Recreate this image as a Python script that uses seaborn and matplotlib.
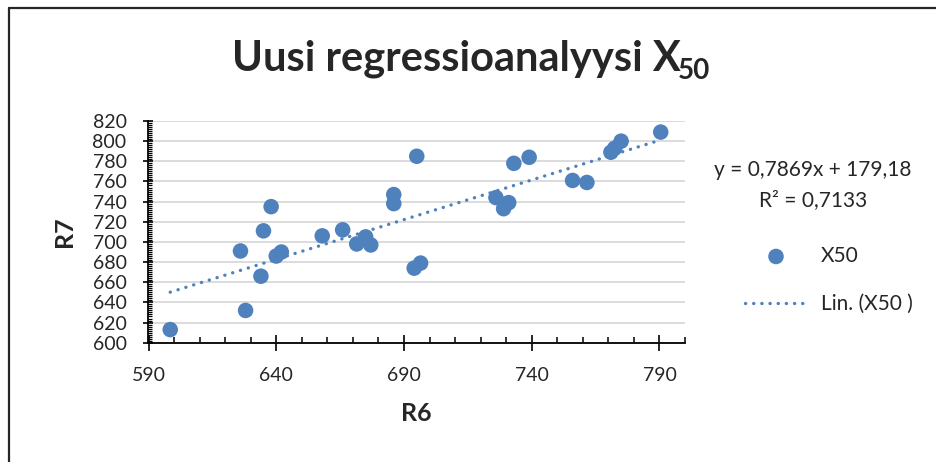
import numpy as np
import pandas as pd
import matplotlib
matplotlib.use("Agg")
import matplotlib.pyplot as plt
from matplotlib.lines import Line2D
from matplotlib.ticker import MultipleLocator
import seaborn as sns

# ---- data ----
r6 = [598.5, 626, 628, 634, 635, 638, 640, 642, 658, 666, 671.5, 675, 677,
      686, 686, 695, 694, 696.5, 726, 729, 731, 733, 739, 756, 761.6,
      771, 772.5, 775, 790.5]
r7 = [613, 691, 632, 666, 711, 735, 686, 690, 706, 712, 698, 705, 697,
      747, 738, 785, 674, 679, 744, 733, 739, 778, 784, 761, 759,
      789, 793, 800, 809]
slope = 0.7869
intercept = 179.18
series_label = "X50"
trend_label = "Lin. (X50 )"
title_main = "Uusi regressioanalyysi X"
title_sub = "50"
eq_text = "y = 0,7869x + 179,18"
r2_text = "R² = 0,7133"
x_ticks = [590, 640, 690, 740, 790]
y_ticks = list(range(600, 821, 20))

df = pd.DataFrame({"R6": r6, "R7": r7})
trend_x = [min(r6), max(r6)]
trend = pd.DataFrame({"R6": trend_x, "R7": [slope * v + intercept for v in trend_x]})

sns.set_theme(style="white")
plt.rcParams["font.family"] = ["Lato", "DejaVu Sans"]

W, H = 937, 462
fig = plt.figure(figsize=(W / 100, H / 100), dpi=100)
ax = fig.add_axes([148.5 / W, 1 - 342.7 / H, (685 - 148.5) / W, (342.7 - 121) / H])

blue = "#4F81BD"
ax.yaxis.grid(True, color="#D9D9D9", linewidth=1.3)
ax.set_axisbelow(True)

sns.lineplot(data=trend, x="R6", y="R7", ax=ax, color=blue, linewidth=2.4,
             dashes=False, label=trend_label)
ln = ax.get_lines()[-1]
ln.set_linestyle((0, (0.05, 2.4)))
ln.set_dash_capstyle("round")

sns.scatterplot(data=df, x="R6", y="R7", ax=ax, color=blue, s=125,
                edgecolor="none", label=series_label, zorder=3)

ax.set_xlim(590, 800)
ax.set_ylim(600, 820)
ax.set_xticks(x_ticks)
ax.set_yticks(y_ticks)
ax.xaxis.set_minor_locator(MultipleLocator(10))
ax.yaxis.set_minor_locator(MultipleLocator(2))

for s in ["top", "right"]:
    ax.spines[s].set_visible(False)
for s in ["left", "bottom"]:
    ax.spines[s].set_color("black")
    ax.spines[s].set_linewidth(1.3)

ax.tick_params(axis="y", which="major", direction="inout", length=7.5, width=1.2,
               color="black", pad=12, labelsize=14, left=True)
ax.tick_params(axis="y", which="minor", direction="in", length=3.2, width=0.9,
               color="black", left=True)
ax.tick_params(axis="x", which="major", direction="inout", length=11, width=1.2,
               color="black", pad=12, labelsize=14, bottom=True)
ax.tick_params(axis="x", which="minor", direction="in", length=4, width=1.1,
               color="black", bottom=True)

ax.set_xlabel("R6", fontsize=18, fontweight="bold", labelpad=13)
ax.set_ylabel("R7", fontsize=18, fontweight="bold", labelpad=12)

# title with bold subscript, centred as a whole
t_main = fig.text(0, 1 - 70 / H, title_main, fontsize=30, fontweight="bold",
                  ha="left", va="baseline")
t_sub = fig.text(0, 1 - 79 / H, title_sub, fontsize=20, fontweight="bold",
                 ha="left", va="baseline")
fig.canvas.draw()
r = fig.canvas.get_renderer()
w_main = t_main.get_window_extent(r).width
w_sub = t_sub.get_window_extent(r).width
gap = -3
total = w_main + gap + w_sub
x0 = 471 - total / 2
t_main.set_x(x0 / W)
t_sub.set_x((x0 + w_main + gap) / W)

fig.text(813 / W, 1 - 170 / H, eq_text, fontsize=15, ha="center", va="center")
fig.text(813 / W, 1 - 200 / H, r2_text, fontsize=15, ha="center", va="center")

handles, labels = ax.get_legend_handles_labels()
order = [labels.index(series_label), labels.index(trend_label)]
leg = ax.legend([handles[i] for i in order], [labels[i] for i in order],
                loc="center left", bbox_to_anchor=(726 / W, 1 - 280 / H),
                bbox_transform=fig.transFigure, frameon=False, fontsize=15,
                handlelength=3.0, labelspacing=1.35, handletextpad=0.67)

# chart-area border (left and top visible in the reference)
fig.add_artist(Line2D([9 / W, 9 / W], [0, 1 - 8 / H], transform=fig.transFigure,
                      color="#262626", linewidth=1.6))
fig.add_artist(Line2D([9 / W, 1], [1 - 8 / H, 1 - 8 / H], transform=fig.transFigure,
                      color="#262626", linewidth=1.6))

fig.savefig("out.png", dpi=100)
